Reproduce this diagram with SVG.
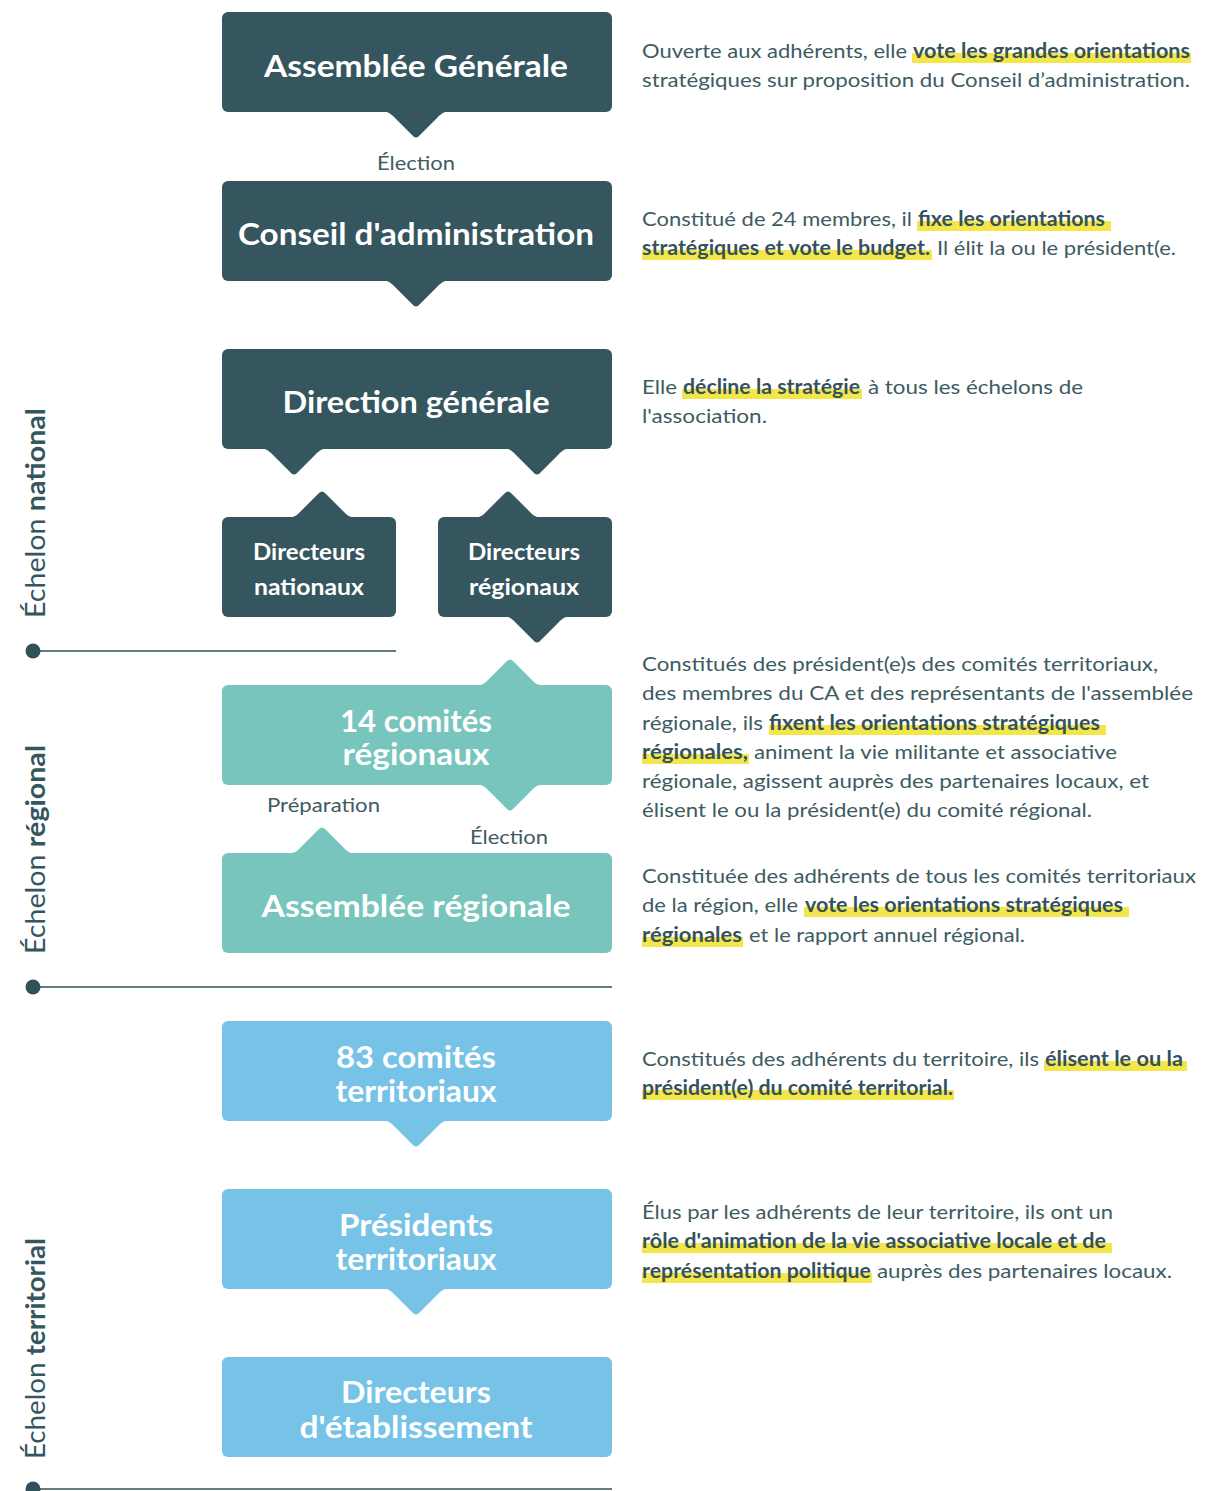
<svg xmlns="http://www.w3.org/2000/svg" width="1220" height="1491" viewBox="0 0 1220 1491">
<style>
.dk{fill:#35565e}.tl{fill:#77c5bd}.bl{fill:#77c3e7}
.tt{font-family:Lato,"Open Sans","Liberation Sans",sans-serif;font-weight:700;fill:#fff;text-anchor:middle}
.t30{font-size:30px}.t22{font-size:22px}
.d{font-family:Lato,"Open Sans","Liberation Sans",sans-serif;font-size:20px;fill:#3d5b62}
.b{font-weight:700;fill:#35525a}
.hl{fill:#f3e64a}
.lbl{font-family:Lato,"Open Sans","Liberation Sans",sans-serif;font-size:20px;fill:#3d5b62;text-anchor:middle}
.side{font-family:Lato,"Open Sans","Liberation Sans",sans-serif;font-size:26px;fill:#35565e}
.sep{stroke:#2f5158;stroke-width:1.5;fill:none}
.dot{fill:#2f5158}
</style>
<defs>
<path id="dn" d="M-37,-1 C-29,-1 -26,1 -22,5 L-4,23 Q0,28 4,23 L22,5 C26,1 29,-1 37,-1 Z"/>
<path id="up" d="M-37,1 C-29,1 -26,-1 -22,-5 L-4,-23 Q0,-28 4,-23 L22,-5 C26,-1 29,1 37,1 Z"/>
</defs>

<!-- separators -->
<g id="separators">
<line class="sep" x1="33" y1="651" x2="396" y2="651"/><circle class="dot" cx="33" cy="651" r="7.5"/>
<line class="sep" x1="33" y1="987" x2="612" y2="987"/><circle class="dot" cx="33" cy="987" r="7.5"/>
<line class="sep" x1="33" y1="1489" x2="612" y2="1489"/><circle class="dot" cx="33" cy="1489" r="7.5"/>
</g>

<!-- side labels -->
<g id="side-labels">
<text class="side" transform="translate(45,618) rotate(-90)" textLength="210" lengthAdjust="spacingAndGlyphs">Échelon <tspan font-weight="700">national</tspan></text>
<text class="side" transform="translate(45,954) rotate(-90)" textLength="209" lengthAdjust="spacingAndGlyphs">Échelon <tspan font-weight="700">régional</tspan></text>
<text class="side" transform="translate(45,1459) rotate(-90)" textLength="221" lengthAdjust="spacingAndGlyphs">Échelon <tspan font-weight="700">territorial</tspan></text>
</g>

<!-- connectors (tails) -->
<g id="connectors">
<use href="#dn" x="416" y="112" class="dk"/>
<use href="#dn" x="416" y="281" class="dk"/>
<use href="#dn" x="294" y="449" class="dk"/>
<use href="#dn" x="537" y="449" class="dk"/>
<use href="#up" x="322" y="517" class="dk"/>
<use href="#up" x="508" y="517" class="dk"/>
<use href="#dn" x="537" y="617" class="dk"/>
<use href="#up" x="510" y="685" class="tl"/>
<use href="#dn" x="510" y="785" class="tl"/>
<use href="#up" x="322" y="853" class="tl"/>
<use href="#dn" x="416" y="1121" class="bl"/>
<use href="#dn" x="416" y="1289" class="bl"/>
<text class="lbl" x="416" y="170" textLength="78" lengthAdjust="spacingAndGlyphs">Élection</text>
<text class="lbl" x="323.5" y="812" textLength="113" lengthAdjust="spacingAndGlyphs">Préparation</text>
<text class="lbl" x="509" y="844" textLength="78" lengthAdjust="spacingAndGlyphs">Élection</text>
</g>

<!-- nodes -->
<g id="assemblee-generale">
<rect class="dk" x="222" y="12" width="390" height="100" rx="6"/>
<text class="tt t30" x="416" y="77" textLength="304" lengthAdjust="spacingAndGlyphs">Assemblée Générale</text>
</g>
<g id="conseil-administration">
<rect class="dk" x="222" y="181" width="390" height="100" rx="6"/>
<text class="tt t30" x="416" y="245" textLength="356" lengthAdjust="spacingAndGlyphs">Conseil d'administration</text>
</g>
<g id="direction-generale">
<rect class="dk" x="222" y="349" width="390" height="100" rx="6"/>
<text class="tt t30" x="416" y="413" textLength="267" lengthAdjust="spacingAndGlyphs">Direction générale</text>
</g>
<g id="directeurs-nationaux">
<rect class="dk" x="222" y="517" width="174" height="100" rx="6"/>
<text class="tt t22" x="309" y="560" textLength="112" lengthAdjust="spacingAndGlyphs">Directeurs</text>
<text class="tt t22" x="309" y="595" textLength="110" lengthAdjust="spacingAndGlyphs">nationaux</text>
</g>
<g id="directeurs-regionaux">
<rect class="dk" x="438" y="517" width="174" height="100" rx="6"/>
<text class="tt t22" x="524" y="560" textLength="112" lengthAdjust="spacingAndGlyphs">Directeurs</text>
<text class="tt t22" x="524" y="595" textLength="110" lengthAdjust="spacingAndGlyphs">régionaux</text>
</g>
<g id="comites-regionaux">
<rect class="tl" x="222" y="685" width="390" height="100" rx="6"/>
<text class="tt t30" x="416" y="732" textLength="152" lengthAdjust="spacingAndGlyphs">14 comités</text>
<text class="tt t30" x="416" y="765" textLength="147" lengthAdjust="spacingAndGlyphs">régionaux</text>
</g>
<g id="assemblee-regionale">
<rect class="tl" x="222" y="853" width="390" height="100" rx="6"/>
<text class="tt t30" x="416" y="917" textLength="309" lengthAdjust="spacingAndGlyphs">Assemblée régionale</text>
</g>
<g id="comites-territoriaux">
<rect class="bl" x="222" y="1021" width="390" height="100" rx="6"/>
<text class="tt t30" x="416" y="1068" textLength="160" lengthAdjust="spacingAndGlyphs">83 comités</text>
<text class="tt t30" x="416" y="1102" textLength="161" lengthAdjust="spacingAndGlyphs">territoriaux</text>
</g>
<g id="presidents-territoriaux">
<rect class="bl" x="222" y="1189" width="390" height="100" rx="6"/>
<text class="tt t30" x="416" y="1236" textLength="154" lengthAdjust="spacingAndGlyphs">Présidents</text>
<text class="tt t30" x="416" y="1270" textLength="161" lengthAdjust="spacingAndGlyphs">territoriaux</text>
</g>
<g id="directeurs-etablissement">
<rect class="bl" x="222" y="1357" width="390" height="100" rx="6"/>
<text class="tt t30" x="416" y="1403" textLength="150" lengthAdjust="spacingAndGlyphs">Directeurs</text>
<text class="tt t30" x="416" y="1438" textLength="233" lengthAdjust="spacingAndGlyphs">d'établissement</text>
</g>

<!-- descriptions -->
<g id="descriptions">
<rect class="hl" x="912" y="53" width="279" height="10"/>
<rect class="hl" x="917" y="221" width="194" height="10"/>
<rect class="hl" x="642" y="250" width="290" height="10"/>
<rect class="hl" x="682" y="389" width="180" height="10"/>
<rect class="hl" x="769" y="725" width="337" height="10"/>
<rect class="hl" x="642" y="754" width="107" height="10"/>
<rect class="hl" x="804" y="907" width="325" height="10"/>
<rect class="hl" x="642" y="937" width="101" height="10"/>
<rect class="hl" x="1044" y="1061" width="143" height="10"/>
<rect class="hl" x="642" y="1090" width="312" height="10"/>
<rect class="hl" x="642" y="1243" width="470" height="10"/>
<rect class="hl" x="642" y="1273" width="230" height="10"/>

<text class="d" x="642" y="58" textLength="265" lengthAdjust="spacingAndGlyphs">Ouverte aux adhérents, elle</text>
<text class="d b" x="913" y="58" textLength="277" lengthAdjust="spacingAndGlyphs">vote les grandes orientations</text>
<text class="d" x="642" y="87" textLength="548" lengthAdjust="spacingAndGlyphs">stratégiques sur proposition du Conseil d’administration.</text>

<text class="d" x="642" y="226" textLength="270" lengthAdjust="spacingAndGlyphs">Constitué de 24 membres, il</text>
<text class="d b" x="918" y="226" textLength="187" lengthAdjust="spacingAndGlyphs">fixe les orientations</text>
<text class="d b" x="642" y="255" textLength="288" lengthAdjust="spacingAndGlyphs">stratégiques et vote le budget.</text>
<text class="d" x="937" y="255" textLength="239" lengthAdjust="spacingAndGlyphs">Il élit la ou le président(e.</text>

<text class="d" x="642" y="394" textLength="35" lengthAdjust="spacingAndGlyphs">Elle</text>
<text class="d b" x="683" y="394" textLength="177" lengthAdjust="spacingAndGlyphs">décline la stratégie</text>
<text class="d" x="868" y="394" textLength="215" lengthAdjust="spacingAndGlyphs">à tous les échelons de</text>
<text class="d" x="642" y="423" textLength="125" lengthAdjust="spacingAndGlyphs">l'association.</text>

<text class="d" x="642" y="671" textLength="516" lengthAdjust="spacingAndGlyphs">Constitués des président(e)s des comités territoriaux,</text>
<text class="d" x="642" y="700" textLength="551" lengthAdjust="spacingAndGlyphs">des membres du CA et des représentants de l'assemblée</text>
<text class="d" x="642" y="730" textLength="121" lengthAdjust="spacingAndGlyphs">régionale, ils</text>
<text class="d b" x="769" y="730" textLength="331" lengthAdjust="spacingAndGlyphs">fixent les orientations stratégiques</text>
<text class="d b" x="642" y="759" textLength="106" lengthAdjust="spacingAndGlyphs">régionales,</text>
<text class="d" x="754" y="759" textLength="363" lengthAdjust="spacingAndGlyphs">animent la vie militante et associative</text>
<text class="d" x="642" y="788" textLength="507" lengthAdjust="spacingAndGlyphs">régionale, agissent auprès des partenaires locaux, et</text>
<text class="d" x="642" y="817" textLength="450" lengthAdjust="spacingAndGlyphs">élisent le ou la président(e) du comité régional.</text>

<text class="d" x="642" y="883" textLength="554" lengthAdjust="spacingAndGlyphs">Constituée des adhérents de tous les comités territoriaux</text>
<text class="d" x="642" y="912" textLength="156" lengthAdjust="spacingAndGlyphs">de la région, elle</text>
<text class="d b" x="805" y="912" textLength="318" lengthAdjust="spacingAndGlyphs">vote les orientations stratégiques</text>
<text class="d b" x="642" y="942" textLength="100" lengthAdjust="spacingAndGlyphs">régionales</text>
<text class="d" x="749" y="942" textLength="276" lengthAdjust="spacingAndGlyphs">et le rapport annuel régional.</text>

<text class="d" x="642" y="1066" textLength="397" lengthAdjust="spacingAndGlyphs">Constitués des adhérents du territoire, ils</text>
<text class="d b" x="1045" y="1066" textLength="138" lengthAdjust="spacingAndGlyphs">élisent le ou la</text>
<text class="d b" x="642" y="1095" textLength="311" lengthAdjust="spacingAndGlyphs">président(e) du comité territorial.</text>

<text class="d" x="642" y="1219" textLength="471" lengthAdjust="spacingAndGlyphs">Élus par les adhérents de leur territoire, ils ont un</text>
<text class="d b" x="642" y="1248" textLength="464" lengthAdjust="spacingAndGlyphs">rôle d'animation de la vie associative locale et de</text>
<text class="d b" x="642" y="1278" textLength="229" lengthAdjust="spacingAndGlyphs">représentation politique</text>
<text class="d" x="877" y="1278" textLength="295" lengthAdjust="spacingAndGlyphs">auprès des partenaires locaux.</text>
</g>
</svg>
